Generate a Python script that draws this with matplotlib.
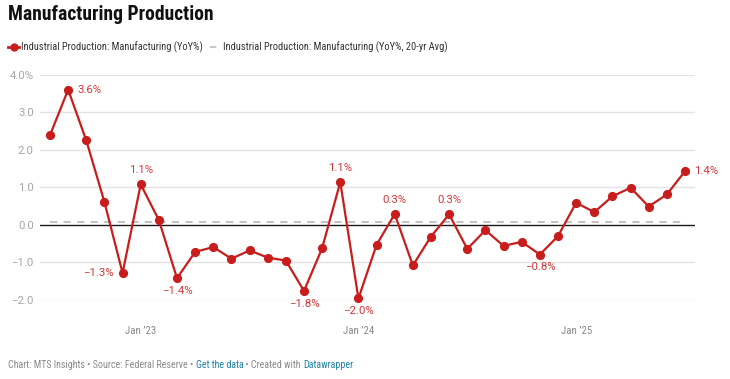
import matplotlib
matplotlib.use("Agg")
import matplotlib.pyplot as plt
from matplotlib.lines import Line2D
from matplotlib import font_manager

# look for a condensed face, otherwise use Roboto
cond_family, cond_stretch = 'Roboto', 'normal'
entries = font_manager.fontManager.ttflist
pref = ['Roboto Condensed', 'Liberation Sans Narrow', 'Arial Narrow',
        'Open Sans Condensed', 'Noto Sans Condensed']
names = {f.name for f in entries}
found = [p for p in pref if p in names]
if found:
    cond_family = found[0]
else:
    for fam in ['Roboto', 'Noto Sans', 'Open Sans', 'Liberation Sans', 'DejaVu Sans']:
        cands = [f for f in entries if f.name == fam and
                 str(f.stretch) in ('condensed', 'semi-condensed', '75', '87.5', 'extra-condensed')]
        if cands:
            cond_family, cond_stretch = fam, cands[0].stretch
            break

plt.rcParams['font.family'] = ['Roboto', 'DejaVu Sans']

months = ["2022-08", "2022-09", "2022-10", "2022-11", "2022-12",
          "2023-01", "2023-02", "2023-03", "2023-04", "2023-05", "2023-06",
          "2023-07", "2023-08", "2023-09", "2023-10", "2023-11", "2023-12",
          "2024-01", "2024-02", "2024-03", "2024-04", "2024-05", "2024-06",
          "2024-07", "2024-08", "2024-09", "2024-10", "2024-11", "2024-12",
          "2025-01", "2025-02", "2025-03", "2025-04", "2025-05", "2025-06",
          "2025-07"]
yoy = [2.39, 3.60, 2.25, 0.61, -1.28,
       1.08, 0.13, -1.42, -0.72, -0.59, -0.90,
       -0.68, -0.87, -0.95, -1.76, -0.62, 1.14,
       -1.96, -0.53, 0.29, -1.08, -0.31, 0.28,
       -0.64, -0.14, -0.56, -0.45, -0.79, -0.30,
       0.59, 0.34, 0.76, 0.99, 0.49, 0.81,
       1.43]
avg20 = 0.08

xtick_months = ["2023-01", "2024-01", "2025-01"]
xtick_labels = ["Jan \u201923", "Jan \u201924", "Jan \u201925"]
yticks = [-2, -1, 0, 1, 2, 3, 4]
ytick_labels = ["\u22122.0", "\u22121.0", "0.0", "1.0", "2.0", "3.0", "4.0%"]

# labelled points: (month, text, position)
labels = [("2022-09", "3.6%", "right"), ("2023-01", "1.1%", "above"),
          ("2022-12", "\u22121.3%", "left"), ("2023-03", "\u22121.4%", "below"),
          ("2023-10", "\u22121.8%", "below"), ("2023-12", "1.1%", "above"),
          ("2024-01", "\u22122.0%", "below"), ("2024-03", "0.3%", "above"),
          ("2024-06", "0.3%", "above"), ("2024-11", "\u22120.8%", "below"),
          ("2025-07", "1.4%", "right")]

RED = "#c71e1d"
LRED = "#d0393a"
GRAY = "#a6a6a6"

W, H = 730, 379
fig = plt.figure(figsize=(W / 100, H / 100), dpi=100)
ax = fig.add_axes([40 / W, 1 - 300 / H, 655 / W, (300 - 74.7) / H])
fig.canvas.draw()
R = fig.canvas.get_renderer()


def fit(t, target_px, maxsize):
    t.set_fontsize(maxsize)
    w = t.get_window_extent(renderer=R).width
    if w > target_px:
        t.set_fontsize(maxsize * target_px / w)
    return t


x = list(range(len(months)))
idx = {m: i for i, m in enumerate(months)}

ax.set_xlim(-10 / 18.14, len(months) - 1 + 10 / 18.14)
ax.set_ylim(-2, 4)
for t in yticks:
    if t != 0:
        ax.axhline(t, color="#e3e3e3", lw=1, zorder=0)
ax.axhline(0, color="#1a1a1a", lw=1, zorder=1)
ax.plot([x[0], x[-1]], [avg20, avg20], color="#bdbdbd", lw=1.3,
        dashes=(4, 3.5), zorder=2)
ax.plot(x, yoy, color=RED, lw=1.6, marker="o", ms=5.6, zorder=3,
        clip_on=False)

for m, txt, pos in labels:
    i = idx[m]
    v = yoy[i]
    if pos == "right":
        kw = dict(xytext=(6.5, 0), ha="left", va="center")
    elif pos == "left":
        kw = dict(xytext=(-6.5, 0), ha="right", va="center")
    elif pos == "above":
        kw = dict(xytext=(0, 6.5), ha="center", va="bottom")
    else:
        kw = dict(xytext=(0, -5.5), ha="center", va="top")
    ax.annotate(txt, (i, v), textcoords="offset points", color=LRED,
                fontsize=8.2, annotation_clip=False, **kw)

for s in ax.spines.values():
    s.set_visible(False)
ax.set_yticks(yticks)
ax.set_yticklabels(ytick_labels)
ax.set_xticks([idx[m] for m in xtick_months])
ax.set_xticklabels(xtick_labels)
ax.tick_params(axis="y", length=0, pad=4.5, labelsize=8.2, labelcolor=GRAY)
ax.tick_params(axis="x", length=0, pad=19, labelsize=8.4, labelcolor="#888888")
for lab in ax.get_xticklabels():
    lab.set_family([cond_family, 'Roboto'])
    lab.set_stretch(cond_stretch)
    fit(lab, 31, 8.6)

CK = dict(family=[cond_family, 'Roboto'], stretch=cond_stretch)

# title
tt = fig.text(8 / W, 1 - 15 / H, "Manufacturing Production",
              fontweight="bold", color="#111111", va="center", ha="left", **CK)
fit(tt, 206, 15)

# legend
ly = 1 - 47 / H
fig.add_artist(Line2D([8 / W, 19 / W], [ly, ly], color=RED, lw=2,
                      transform=fig.transFigure))
fig.add_artist(Line2D([13.5 / W], [ly], color=RED, marker="o", ms=5,
                      transform=fig.transFigure))
l1 = fig.text(21 / W, ly, "Industrial Production: Manufacturing (YoY%)",
              color="#333333", va="center", ha="left", **CK)
fit(l1, 182, 9.0)
x2 = 21 + l1.get_window_extent(renderer=R).width + 7
fig.add_artist(Line2D([x2 / W, (x2 + 10) / W], [ly, ly], color="#c8c8c8", lw=1.5,
                      dashes=(3, 2.5), transform=fig.transFigure))
l2 = fig.text((x2 + 13) / W, ly, "Industrial Production: Manufacturing (YoY%, 20-yr Avg)",
              color="#333333", va="center", ha="left", **CK)
l2.set_fontsize(l1.get_fontsize())

# footer
parts = [("Chart: MTS Insights \u2022 Source: Federal Reserve \u2022 ", "#8a8a8a"),
         ("Get the data", "#1d81a2"),
         (" \u2022 Created with ", "#8a8a8a"),
         ("Datawrapper", "#1d81a2")]
full = fig.text(0, 0, "".join(p[0] for p in parts), **CK)
fit(full, 345, 8.4)
fsize = full.get_fontsize()
full.remove()
xp = 8
for txt, col in parts:
    t = fig.text(xp / W, 1 - 365 / H, txt, fontsize=fsize,
                 color=col, va="center", ha="left", **CK)
    xp += t.get_window_extent(renderer=R).width

fig.savefig("out.png", dpi=100)
